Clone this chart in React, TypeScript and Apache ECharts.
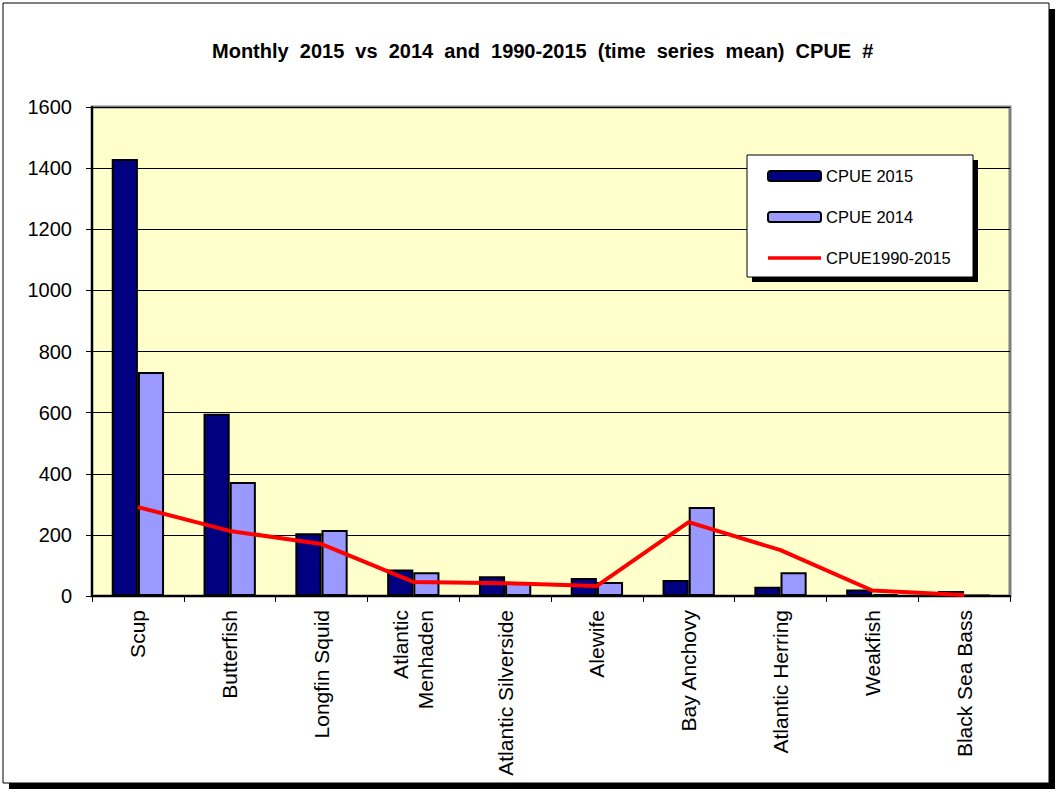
import React, { useEffect, useRef } from "react";
import * as echarts from "echarts";

const categories = [
  "Scup",
  "Butterfish",
  "Longfin Squid",
  "Atlantic\nMenhaden",
  "Atlantic Silverside",
  "Alewife",
  "Bay Anchovy",
  "Atlantic Herring",
  "Weakfish",
  "Black Sea Bass",
];
const cpue2015 = [1430, 596, 205, 87, 65, 59, 52, 30, 21, 16];
const cpue2014 = [733, 373, 216, 78, 46, 46, 291, 78, 6, 3];
const cpueMean = [291, 213, 170, 46, 42, 33, 242, 150, 18, 3];
const yTicks = { min: 0, max: 1600, interval: 200 };

const FONT = "Liberation Sans, Arial, sans-serif";

export default function App() {
  const ref = useRef<HTMLDivElement>(null);
  useEffect(() => {
    if (!ref.current) return;
    const chart = echarts.init(ref.current, undefined, { renderer: "svg" });
    chart.setOption({
      animation: false,
      backgroundColor: "transparent",
      title: {
        text: "Monthly  2015  vs  2014  and  1990-2015  (time  series  mean)  CPUE  #",
        left: 207,
        top: 36,
        textStyle: { fontFamily: FONT, fontWeight: "bold", fontSize: 20, color: "#000" },
      },
      graphic: [
        { type: "rect", z: -20, shape: { x: 9, y: 9, width: 1046, height: 780 }, style: { fill: "#000" } },
        { type: "rect", z: -19, shape: { x: 3, y: 3, width: 1046, height: 780 }, style: { fill: "#fff", stroke: "#000", lineWidth: 1 } },
        { type: "rect", z: 5, shape: { x: 752, y: 160, width: 226, height: 122 }, style: { fill: "#000" } },
        { type: "rect", z: 6, shape: { x: 747, y: 155, width: 226, height: 122 }, style: { fill: "#fff", stroke: "#000", lineWidth: 1 } },
      ],
      legend: {
        orient: "vertical",
        left: 762,
        top: 161,
        padding: 5,
        z: 10,
        itemWidth: 53,
        itemHeight: 10,
        itemGap: 21,
        textStyle: { fontFamily: FONT, fontSize: 16.5, lineHeight: 20, color: "#000" },
        data: [
          { name: "CPUE 2015" },
          { name: "CPUE 2014" },
          { name: "CPUE1990-2015", icon: "path://M0,0 M0,3.2 L53,3.2 L53,6.8 L0,6.8 Z M53,10" },
        ],
      },
      grid: {
        left: 92,
        right: 52,
        top: 107,
        bottom: 197,
        show: true,
        backgroundColor: "#FFFFCC",
        borderColor: "#808080",
        borderWidth: 3,
      },
      xAxis: {
        type: "category",
        data: categories,
        axisLine: { lineStyle: { color: "#000", width: 2 } },
        axisTick: { show: true, length: 6, lineStyle: { color: "#000", width: 1 } },
        axisLabel: {
          interval: 0,
          rotate: 90,
          margin: 14,
          fontFamily: FONT,
          fontSize: 21,
          color: "#000",
          lineHeight: 25,
          align: "right",
        },
      },
      yAxis: {
        type: "value",
        min: yTicks.min,
        max: yTicks.max,
        interval: yTicks.interval,
        axisLine: { show: true, lineStyle: { color: "#000", width: 2 } },
        axisTick: { show: true, length: 6, lineStyle: { color: "#000", width: 1 } },
        axisLabel: {
          margin: 20,
          fontFamily: FONT,
          fontSize: 20,
          color: "#000",
          formatter: (v: number) => String(v),
        },
        splitLine: { show: true, lineStyle: { color: "#000", width: 1 } },
      },
      series: [
        {
          name: "CPUE 2015",
          type: "bar",
          data: cpue2015,
          barGap: "0%",
          barCategoryGap: "43%",
          itemStyle: { color: "#000080", borderColor: "#000", borderWidth: 2 },
          z: 2,
        },
        {
          name: "CPUE 2014",
          type: "bar",
          data: cpue2014,
          barGap: "0%",
          barCategoryGap: "43%",
          itemStyle: { color: "#9999FF", borderColor: "#000", borderWidth: 2 },
          z: 2,
        },
        {
          name: "CPUE1990-2015",
          type: "line",
          data: cpueMean,
          symbol: "none",
          color: "#FF0000",
          itemStyle: { color: "#FF0000" },
          lineStyle: { color: "#FF0000", width: 4 },
          z: 3,
        },
      ],
    });
    return () => chart.dispose();
  }, []);
  return (
    <div
      ref={ref}
      style={{ position: "absolute", left: 0, top: 0, width: 1062, height: 793, background: "#fff" }}
    />
  );
}
